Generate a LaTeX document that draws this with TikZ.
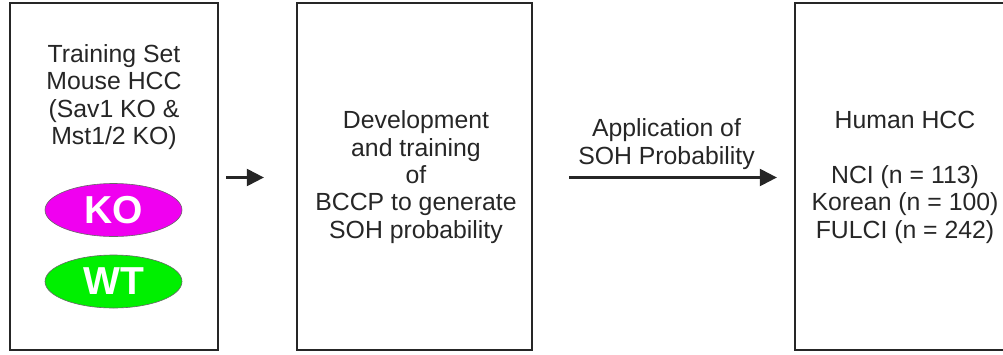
\documentclass[tikz,border=0pt]{standalone}
\usepackage{fontspec}
\setmainfont{Liberation Sans}
\usetikzlibrary{arrows.meta,shapes.geometric}
\definecolor{ink}{HTML}{262626}
\definecolor{komag}{HTML}{F000F0}
\definecolor{wtgreen}{HTML}{00F000}
\tikzset{
  panel/.style={draw=ink, line width=2.3pt, minimum height=347pt, inner sep=0pt},
  body/.style={text=ink, align=center, font=\fontsize{24.8}{27.3}\selectfont, inner sep=0pt},
  pill/.style={ellipse, draw=ink!70, line width=0.6pt, minimum width=137pt, minimum height=53pt,
    text=white, font=\fontsize{39}{42}\bfseries\selectfont, inner sep=0pt},
  arr/.style={draw=ink, line width=2.3pt, -{Triangle[length=17pt,width=17pt]}}
}
\begin{document}
\begin{tikzpicture}[x=1pt,y=-1pt]
  \useasboundingbox (0,0) rectangle (1003,354);
  \clip (0,0) rectangle (1003,354);
  % three stages
  \node[panel, minimum width=208pt] (b1) at (114,176.5) {};
  \node[panel, minimum width=235pt] (b2) at (414.5,176.5) {};
  \node[panel, minimum width=220pt] (b3) at (905,176.5) {};
  % training set
  \node[body] (t1) at (114,97) {Training Set\\Mouse HCC\\(Sav1 KO \&\\Mst1/2 KO)};
  \node[pill, fill=komag] (ko) at (113.5,210) {KO};
  \node[pill, fill=wtgreen] (wt) at (113.5,281.5) {WT};
  % model
  \node[body] (t2) at (416,177) {Development\\and training\\of\\BCCP to generate\\SOH probability};
  % human cohorts
  \node[body] (t3) at (905,177.5) {Human HCC\\[27.3pt]NCI (n = 113)\\Korean (n = 100)\\FULCI (n = 242)};
  % flow arrows
  \coordinate (a1s) at ([xshift=7pt,yshift=-1pt]b1.east);
  \coordinate (a1e) at ([xshift=-32pt,yshift=-1pt]b2.west);
  \draw[arr] (a1s) -- (a1e);
  \coordinate (a2s) at ([xshift=36pt,yshift=-1pt]b2.east);
  \coordinate (a2e) at ([xshift=-17pt,yshift=-1pt]b3.west);
  \draw[arr] (a2s) -- (a2e);
  \node[body] (lab) at (666.5,144) {Application of\\SOH Probability};
\end{tikzpicture}
\end{document}
